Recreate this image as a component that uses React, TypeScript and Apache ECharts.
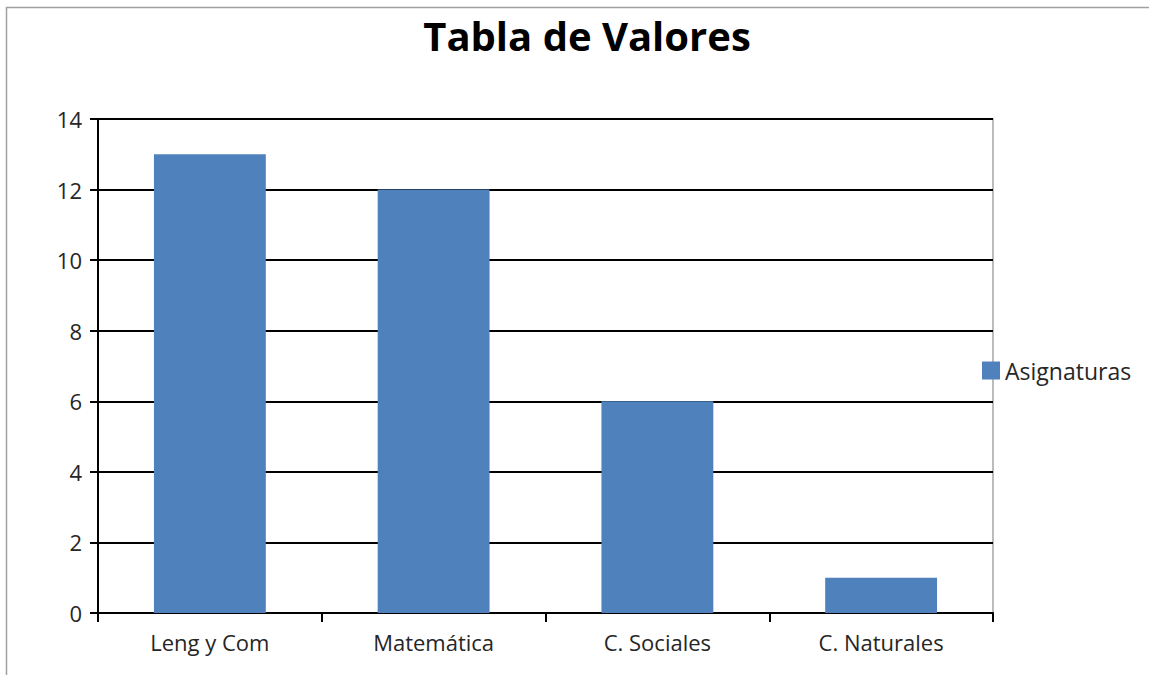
import React, { useEffect, useRef } from "react";
import * as echarts from "echarts";

const categories = ["Leng y Com", "Matemática", "C. Sociales", "C. Naturales"];
const seriesName = "Asignaturas";
const values = [13, 12, 6, 1];
const titleText = "Tabla de Valores";

const FONT = "'Open Sans', 'Liberation Sans', sans-serif";
const TEXT = "#262626";

export default function App() {
  const ref = useRef<HTMLDivElement>(null);
  useEffect(() => {
    if (!ref.current) return;
    const chart = echarts.init(ref.current, undefined, { renderer: "svg" });
    chart.setOption({
      animation: false,
      backgroundColor: "#ffffff",
      title: {
        text: titleText,
        left: 582,
        textAlign: "center",
        top: 10,
        textStyle: { fontFamily: FONT, fontWeight: "bold", fontSize: 40, color: "#000" },
      },
      graphic: [
        {
          type: "rect",
          shape: { x: 6.5, y: 7.5, width: 1160, height: 700 },
          style: { fill: "none", stroke: "#a0a0a0", lineWidth: 1.5 },
          silent: true,
          z: -1,
        },
      ],
      legend: {
        left: 977,
        top: 354,
        itemWidth: 18,
        itemHeight: 18,
        icon: "rect",
        data: [seriesName],
        textStyle: { fontFamily: FONT, fontSize: 23, color: TEXT },
      },
      grid: {
        left: 98,
        top: 119,
        right: 156,
        bottom: 62,
        show: true,
        borderColor: "#a6a6a6",
        borderWidth: 1.5,
        backgroundColor: "transparent",
      },
      xAxis: {
        type: "category",
        data: categories,
        axisLine: { show: true, lineStyle: { color: "#000", width: 2 } },
        axisTick: { show: true, length: 9, lineStyle: { color: "#000", width: 2 }, alignWithLabel: false },
        axisLabel: { fontFamily: FONT, fontSize: 22, color: TEXT, margin: 18 },
        splitLine: { show: false },
      },
      yAxis: {
        type: "value",
        min: 0,
        max: 14,
        interval: 2,
        axisLine: { show: true, lineStyle: { color: "#000", width: 2 } },
        axisTick: { show: true, length: 8, inside: false, lineStyle: { color: "#000", width: 2 } },
        axisLabel: { fontFamily: FONT, fontSize: 22, color: TEXT, margin: 16 },
        splitLine: { show: true, lineStyle: { color: "#000", width: 2 } },
      },
      series: [
        {
          name: seriesName,
          type: "bar",
          data: values,
          barWidth: "50%",
          itemStyle: { color: "#4f81bd" },
        },
      ],
    });
    return () => chart.dispose();
  }, []);
  return (
    <div
      ref={ref}
      style={{ position: "fixed", left: 0, top: 0, width: 1149, height: 675 }}
    />
  );
}
